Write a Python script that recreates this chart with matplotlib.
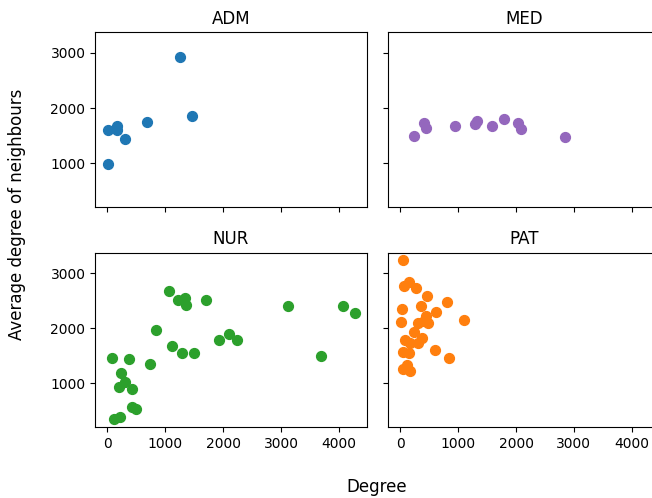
import numpy as np
import matplotlib.pyplot as plt

# degree vs average degree of neighbours, per professional category
adm_degree = [1250, 1470, 680, 165, 170, 15, 300, 5]
adm_avg_nb = [2930, 1860, 1745, 1685, 1600, 1610, 1440, 980]

med_degree = [235, 405, 450, 955, 1285, 1325, 1585, 1795, 2040, 2080, 2850]
med_avg_nb = [1500, 1730, 1645, 1670, 1720, 1770, 1670, 1800, 1730, 1625, 1485]

nur_degree = [1060, 1225, 1345, 1355, 1700, 3115, 4070, 4270, 845, 1925, 2110, 2240,
              1110, 1290, 1505, 3690, 90, 370, 745, 240, 300, 200, 420, 430, 490, 125, 225]
nur_avg_nb = [2675, 2520, 2545, 2425, 2505, 2400, 2410, 2275, 1965, 1795, 1890, 1795,
              1680, 1550, 1550, 1505, 1470, 1435, 1355, 1185, 1030, 940, 895, 580, 530, 350, 395]

pat_degree = [45, 70, 150, 275, 460, 805, 365, 35, 620, 440, 1105, 15, 305, 405, 485,
              235, 85, 375, 310, 165, 45, 150, 610, 840, 110, 45, 165, 120]
pat_avg_nb = [3230, 2775, 2845, 2730, 2580, 2485, 2400, 2345, 2290, 2215, 2160, 2120, 2100, 2130, 2095,
              1940, 1790, 1830, 1725, 1735, 1575, 1555, 1600, 1460, 1340, 1255, 1235, 1280]

groups = [("ADM", adm_degree, adm_avg_nb, "tab:blue"),
          ("MED", med_degree, med_avg_nb, "tab:purple"),
          ("NUR", nur_degree, nur_avg_nb, "tab:green"),
          ("PAT", pat_degree, pat_avg_nb, "tab:orange")]

fig, axes = plt.subplots(2, 2, figsize=(6.52, 4.98), dpi=100, sharex=True, sharey=True)
fig.subplots_adjust(left=0.146, right=1.012, top=0.935, bottom=0.142, wspace=0.078, hspace=0.26)

for ax, (name, deg, avg, col) in zip(axes.flat, groups):
    ax.scatter(deg, avg, color=col, s=50)
    ax.set_title(name)

fig.text(0.578, 0.005, "Degree", ha="center", va="bottom", fontsize=12)
fig.text(0.012, 0.57, "Average degree of neighbours", ha="left", va="center",
         rotation=90, fontsize=12)

fig.savefig("out.png", dpi=100)
